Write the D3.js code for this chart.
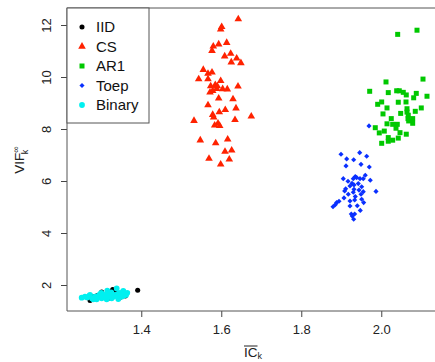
<!DOCTYPE html>
<html><head><meta charset="utf-8">
<script src="https://cdn.jsdelivr.net/npm/d3@7/dist/d3.min.js"></script>
<style>body{margin:0;background:#fff}text{font-family:"Liberation Sans",Arial,sans-serif}</style>
</head><body><svg id="c" width="435" height="362"></svg>
<script>
const seriesNames = ["IID","CS","AR1","Toep","Binary"];
const seriesColors = ["#000000","#ff2200","#00c800","#0a30ff","#00f0f0"];
const xTicks = [1.4,1.6,1.8,2.0];
const yTicks = [2,4,6,8,10,12];

const iidX = [1.391,1.272,1.301,1.3285,1.334,1.29,1.31,1.34,1.32,1.35,1.28,1.30,1.36,1.315,1.345];
const iidY = [1.80,1.40,1.73,1.83,1.74,1.60,1.55,1.60,1.50,1.65,1.55,1.62,1.58,1.68,1.50];

const csX = [1.6425,1.601,1.5985,1.6135,1.5935,1.58,1.5768,1.6235,1.6085,1.6385,1.625,1.649,1.555,1.5768,1.5668,1.5435,1.5668,1.5985,1.585,1.5735,1.59,1.6418,1.5885,1.6035,1.615,1.5785,1.5718,1.5935,1.6293,1.5668,1.6368,1.61,1.595,1.5785,1.581,1.675,1.5318,1.6343,1.5918,1.5835,1.596,1.5475,1.616,1.586,1.626,1.6093,1.5693,1.62,1.5985];
const csY = [12.23,11.93,11.83,11.32,11.26,11.18,11.01,10.90,10.80,10.72,10.57,10.54,10.28,10.18,10.13,9.92,9.92,9.85,9.70,9.65,9.65,9.64,9.55,9.54,9.53,9.47,9.41,9.18,9.15,8.92,8.80,8.74,8.65,8.55,8.45,8.49,8.32,8.35,8.22,8.14,8.12,7.57,7.60,7.46,7.18,7.13,6.86,6.83,6.64];

const ar1X = [2.041,2.0893,2.0118,2.1043,1.971,2.0175,2.0385,2.045,2.055,2.0625,2.0875,2.081,2.1143,2.001,1.991,2.0425,2.0618,2.0143,2.1,2.0643,2.0043,2.0485,2.0643,2.085,2.0675,2.025,2.0668,2.0785,2.0685,2.0785,2.0143,2.0285,2.04,2.0368,1.985,2.0075,1.995,2.0468,2.0625,2.0175,2.0425,2.0175,2.0285,2.001];
const ar1Y = [11.64,11.80,9.81,9.92,9.45,9.40,9.47,9.47,9.41,9.31,9.37,9.20,9.26,9.04,8.95,9.03,9.04,8.81,8.81,8.78,8.58,8.60,8.65,8.68,8.53,8.40,8.40,8.40,8.31,8.22,8.20,8.18,8.18,8.03,8.05,7.92,7.85,7.86,7.80,7.67,7.65,7.53,7.57,7.45];

const toepX = [1.9693,1.8993,1.946,1.9635,1.9135,1.931,1.9493,1.9118,1.97,1.935,1.96,1.905,1.93,1.9385,1.9468,1.955,1.9725,1.9168,1.9268,1.9425,1.9318,1.9218,1.951,1.911,1.9318,1.9443,1.9085,1.955,1.9868,1.93,1.9175,1.9493,1.935,1.951,1.9218,1.956,1.9335,1.9068,1.8943,1.8885,1.885,1.8793,1.9218,1.94,1.9475,1.925,1.9335,1.9275,1.931];
const toepY = [8.12,7.03,7.09,6.95,6.85,6.82,6.64,6.58,6.54,6.17,6.22,6.09,6.09,6.13,6.09,6.09,6.03,5.99,5.91,5.90,5.85,5.81,5.78,5.70,5.68,5.65,5.62,5.59,5.60,5.57,5.49,5.49,5.40,5.30,5.23,5.17,5.27,5.35,5.22,5.17,5.09,5.01,5.04,5.05,4.87,4.73,4.73,4.65,4.53];

const binX = [1.251,1.2593,1.2718,1.2843,1.2885,1.2968,1.301,1.3093,1.3135,1.3218,1.326,1.3343,1.3385,1.3425,1.3468,1.351,1.3593,1.365,1.355,1.315,1.28,1.265,1.277,1.292,1.305,1.318,1.33,1.338,1.348,1.357,1.362,1.30,1.325,1.342,1.27];
const binY = [1.51,1.55,1.62,1.55,1.45,1.65,1.49,1.62,1.45,1.68,1.49,1.62,1.87,1.46,1.70,1.55,1.68,1.70,1.77,1.78,1.45,1.52,1.48,1.58,1.56,1.58,1.55,1.58,1.62,1.60,1.62,1.70,1.72,1.66,1.58];

const seriesX = [iidX,csX,ar1X,toepX,binX];
const seriesY = [iidY,csY,ar1Y,toepY,binY];

const svg = d3.select("#c");
const x = d3.scaleLinear().domain([1.2143,2.1443]).range([67,439]);
const y = d3.scaleLinear().domain([1.0,12.654]).range([311,8]);

const symbols = [
  d3.symbol().type(d3.symbolCircle).size(20),
  d3.symbol().type(d3.symbolTriangle).size(25),
  d3.symbol().type(d3.symbolSquare).size(25),
  d3.symbol().type(d3.symbolSquare).size(13),
  d3.symbol().type(d3.symbolCircle).size(26)
];
const rot = [0,0,0,45,0];

// axes
const gx = svg.append("g").attr("transform","translate(0,311)")
  .call(d3.axisBottom(x).tickValues(xTicks).tickFormat(d3.format(".1f")).tickSize(6).tickPadding(8));
const gy = svg.append("g").attr("transform","translate(67,0)")
  .call(d3.axisLeft(y).tickValues(yTicks).tickFormat(d3.format("d")).tickSize(6).tickPadding(4));
[gx,gy].forEach(g=>{
  g.select(".domain").remove();
  g.selectAll("line").attr("stroke","#444");
  g.selectAll("text").attr("font-size",13).attr("fill","#222").attr("font-family","Liberation Sans, Arial");
});
gy.selectAll(".tick text").attr("text-anchor","middle").attr("dy",null)
  .attr("transform","translate(-19,0) rotate(-90)").attr("x",0).attr("y",0)
  .attr("dominant-baseline","middle");
gx.selectAll(".tick text").attr("dy","0.71em");

// frame (left, top, bottom)
svg.append("path").attr("d","M440,8H67V311H440").attr("fill","none").attr("stroke","#555").attr("stroke-width",1);

// points
const plot = svg.append("g");
seriesNames.forEach((n,i)=>{
  const data = seriesX[i].map((v,j)=>[v,seriesY[i][j]]);
  plot.selectAll(null).data(data).enter().append("path")
    .attr("d",symbols[i]())
    .attr("transform",d=>`translate(${x(d[0])},${y(d[1])}) rotate(${rot[i]})`)
    .attr("fill",seriesColors[i]);
});

// legend
const lg = svg.append("g");
lg.append("rect").attr("x",67).attr("y",8).attr("width",82).attr("height",115)
  .attr("fill","#fff").attr("stroke","#555").attr("stroke-width",1);
seriesNames.forEach((n,i)=>{
  const yy = 27 + i*19.5;
  lg.append("path").attr("d",symbols[i]()).attr("transform",`translate(82,${yy}) rotate(${rot[i]})`).attr("fill",seriesColors[i]);
  lg.append("text").attr("x",96).attr("y",yy).attr("dy","0.36em").attr("font-size",15).attr("fill","#111").text(n);
});

// x label
const xl = svg.append("text").attr("x",253).attr("y",357).attr("text-anchor","middle").attr("font-size",13.5).attr("fill","#222");
xl.append("tspan").text("IC");
xl.append("tspan").attr("font-size",9).attr("dy",2).text("k");
const icW = xl.select("tspan").node().getComputedTextLength();
const bb = xl.node().getBBox();
svg.append("line").attr("x1",bb.x).attr("x2",bb.x+icW).attr("y1",346).attr("y2",346).attr("stroke","#222").attr("stroke-width",1);

// y label
const yl = svg.append("text").attr("transform","translate(24,160) rotate(-90)").attr("text-anchor","middle").attr("font-size",13.5).attr("fill","#222");
yl.append("tspan").text("VIF");
yl.append("tspan").attr("font-size",9).attr("dy",-5).text("∞");
yl.append("tspan").attr("font-size",9).attr("dx",-8).attr("dy",9).text("k");
</script></body></html>
